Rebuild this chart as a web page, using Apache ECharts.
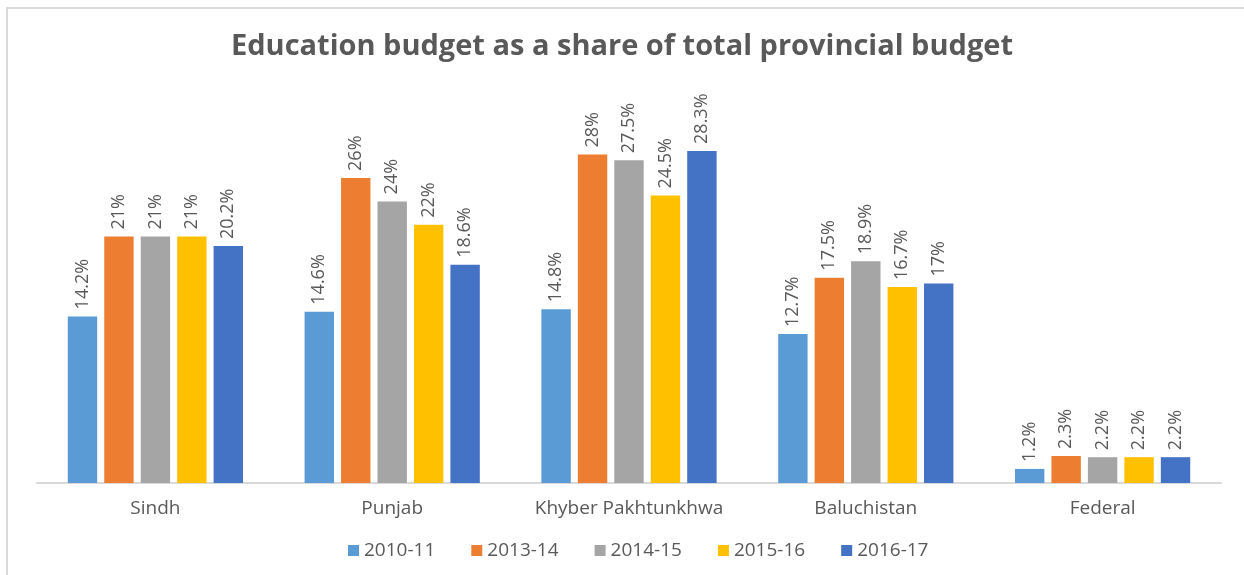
<!DOCTYPE html>
<html>
<head>
<meta charset="utf-8">
<script src="https://cdn.jsdelivr.net/npm/echarts@6/dist/echarts.min.js"></script>
<style>
  html, body { margin: 0; padding: 0; background: #fff; }
  #chart { width: 1244px; height: 575px; }
</style>
</head>
<body>
<div id="chart"></div>
<script>
const regions = ['Sindh', 'Punjab', 'Khyber Pakhtunkhwa', 'Baluchistan', 'Federal'];
const years = ['2010-11', '2013-14', '2014-15', '2015-16', '2016-17'];
const colors = ['#5b9bd5', '#ed7d31', '#a5a5a5', '#ffc000', '#4472c4'];

const share2010 = [14.2, 14.6, 14.8, 12.7, 1.2];
const share2013 = [21, 26, 28, 17.5, 2.3];
const share2014 = [21, 24, 27.5, 18.9, 2.2];
const share2015 = [21, 22, 24.5, 16.7, 2.2];
const share2016 = [20.2, 18.6, 28.3, 17, 2.2];

const seriesValues = [share2010, share2013, share2014, share2015, share2016];

const textColor = '#595959';
const font = '"Open Sans", "Noto Sans", sans-serif';

const chart = echarts.init(document.getElementById('chart'));

chart.setOption({
  animation: false,
  color: colors,
  graphic: [
    {
      type: 'rect',
      shape: { x: 7, y: 8, width: 1260, height: 600 },
      style: { fill: 'none', stroke: '#d9d9d9', lineWidth: 2 },
      silent: true,
    },
  ],
  title: {
    text: 'Education budget as a share of total provincial budget',
    left: 'center',
    top: 27,
    textStyle: {
      color: textColor,
      fontSize: 29,
      fontWeight: 'bold',
      fontFamily: font,
    },
  },
  legend: {
    bottom: 10,
    left: 343,
    itemWidth: 11,
    itemHeight: 11,
    itemGap: 36,
    icon: 'rect',
    textStyle: { color: textColor, fontSize: 19, fontFamily: font },
    data: years,
  },
  grid: {
    left: 37,
    right: 23,
    top: 131,
    bottom: 92,
    containLabel: false,
  },
  xAxis: {
    type: 'category',
    data: regions,
    axisLine: { lineStyle: { color: '#d9d9d9', width: 2 } },
    axisTick: { show: false },
    axisLabel: {
      interval: 0,
      color: textColor,
      fontSize: 19,
      fontFamily: font,
      margin: 16,
    },
  },
  yAxis: {
    type: 'value',
    min: 0,
    max: 30,
    show: false,
    splitLine: { show: false },
  },
  series: seriesValues.map((values, i) => ({
    name: years[i],
    type: 'bar',
    data: values,
    barGap: '24%',
    barCategoryGap: '26%',
    label: {
      show: true,
      position: 'top',
      rotate: 90,
      align: 'left',
      verticalAlign: 'middle',
      distance: 7,
      color: textColor,
      fontSize: 18,
      fontFamily: font,
      formatter: (p) => p.value + '%',
    },
  })),
});
</script>
</body>
</html>
